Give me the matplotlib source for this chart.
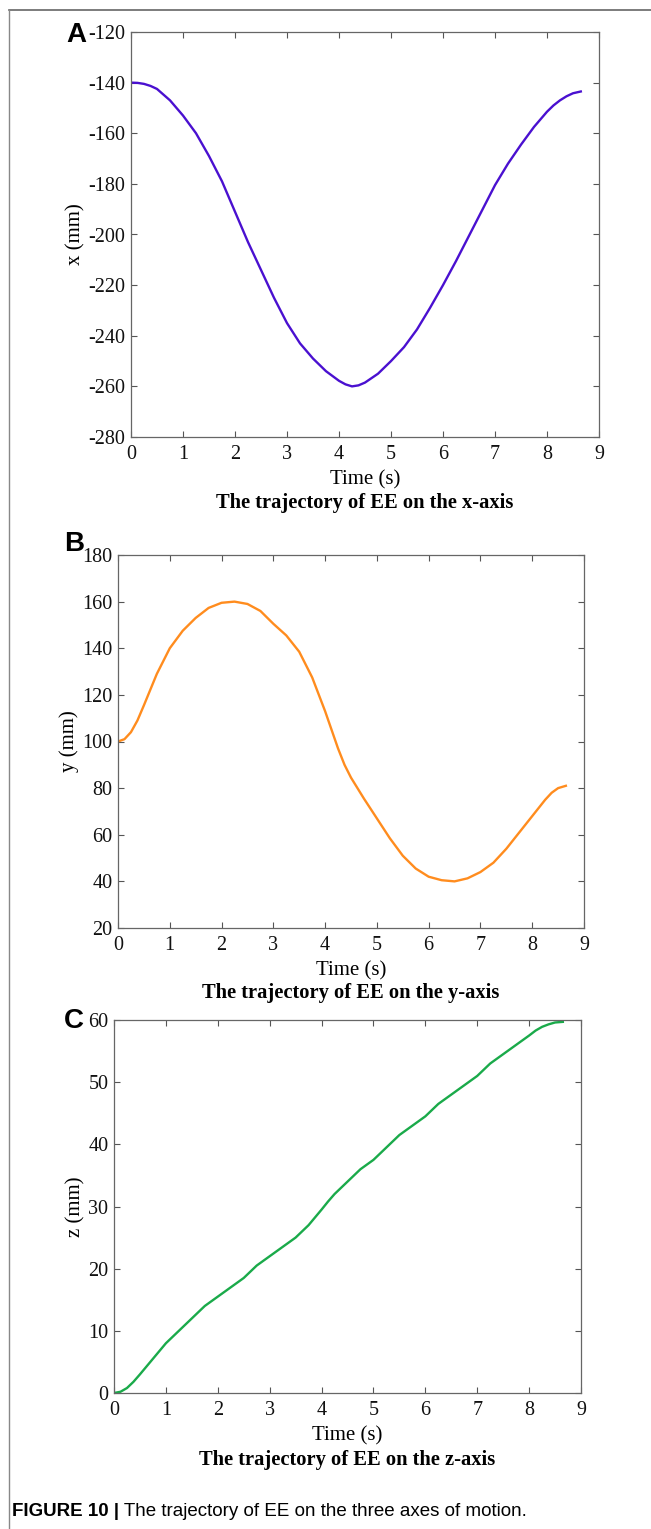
import matplotlib
matplotlib.use("Agg")
import matplotlib.pyplot as plt
from matplotlib.lines import Line2D

plt.rcParams["axes.unicode_minus"] = False

# ---- data ----
time_s = [0, 0.125, 0.25, 0.375, 0.5, 0.75, 1, 1.25, 1.5, 1.75, 2, 2.25, 2.5, 2.75, 3,
          3.25, 3.5, 3.75, 4, 4.125, 4.25, 4.375, 4.5, 4.75, 5, 5.25, 5.5, 5.75, 6,
          6.25, 6.5, 6.75, 7, 7.25, 7.5, 7.75, 8, 8.125, 8.25, 8.375, 8.5, 8.65]
x_mm = [-140, -140.1, -140.5, -141.3, -142.5, -147, -153, -160, -169, -179, -191,
        -203, -214, -225, -235, -243, -249, -254, -257.8, -259.2, -260, -259.6,
        -258.5, -255, -250, -244.5, -237.5, -229, -220, -210.5, -200.5, -190.5,
        -180.5, -172, -164.5, -157.5, -151.5, -149, -147, -145.4, -144.2, -143.5]
y_mm = [100, 101, 104, 109, 115.5, 129, 140, 147.5, 153, 157.3, 159.5, 160, 159,
        156, 150.5, 145.5, 138.5, 127.5, 113, 105, 97, 90, 84.5, 75.5, 67, 58.5, 51,
        45.5, 42, 40.5, 40, 41.3, 44, 48, 54, 61, 68, 71.5, 75, 78, 80, 81]
z_mm = [0, 0.2, 0.8, 1.8, 3, 5.5, 8, 10, 12, 14, 15.5, 17, 18.5, 20.5, 22, 23.5, 25,
        27, 29.5, 30.8, 32, 33, 34, 36, 37.5, 39.5, 41.5, 43, 44.5, 46.5, 48, 49.5,
        51, 53, 54.5, 56, 57.5, 58.3, 58.9, 59.3, 59.6, 59.7]

x_ticks = list(range(0, 10))
yticks_a = list(range(-280, -119, 20))
yticks_b = list(range(20, 181, 20))
yticks_c = list(range(0, 61, 10))

panel_letters = ["A", "B", "C"]
ylabels = ["x (mm)", "y (mm)", "z (mm)"]
titles = ["The trajectory of EE on the x-axis",
          "The trajectory of EE on the y-axis",
          "The trajectory of EE on the z-axis"]
colors = ["#4a10d0", "#ff8c1e", "#1aaa4a"]
caption_bold = "FIGURE 10 |"
caption_text = " The trajectory of EE on the three axes of motion."

W, H = 651, 1529
fig = plt.figure(figsize=(W / 100, H / 100), dpi=100)
serif = ["Liberation Serif", "DejaVu Serif"]
sans = ["Liberation Sans", "DejaVu Sans"]

def px_box(l, r, t, b):
    return [l / W, 1 - b / H, (r - l) / W, (b - t) / H]

boxes = [px_box(131, 599, 32, 437), px_box(118, 584, 555, 928), px_box(114, 581, 1020, 1393)]
series = [x_mm, y_mm, z_mm]
yticks = [yticks_a, yticks_b, yticks_c]
title_y = [503, 993, 1460]
letter_pos = [(66, 35), (64, 544), (64, 1021)]

for i in range(3):
    ax = fig.add_axes(boxes[i])
    ax.plot(time_s, series[i], color=colors[i], lw=1.7)
    ax.set_xlim(0, 9)
    ax.set_ylim(yticks[i][0], yticks[i][-1])
    ax.set_xticks(x_ticks)
    ax.set_yticks(yticks[i])
    ax.tick_params(direction="in", top=True, right=True, length=4, width=0.8,
                   color="#555555", labelsize=14.5)
    ax.tick_params(axis="x", pad=6)
    ax.tick_params(axis="y", pad=4)
    for lab in ax.get_xticklabels() + ax.get_yticklabels():
        lab.set_family(serif)
        lab.set_color("#111111")
    for sp in ax.spines.values():
        sp.set_color("#666666")
        sp.set_linewidth(0.9)
    ax.set_xlabel("Time (s)", family=serif, fontsize=15, labelpad=4)
    ax.set_ylabel(ylabels[i], family=serif, fontsize=15, labelpad=2)
    cx = (boxes[i][0] + boxes[i][2] / 2)
    fig.text(cx, 1 - title_y[i] / H, titles[i], family=serif, fontsize=14.8,
             fontweight="bold", ha="center", va="center")
    lx, ly = letter_pos[i]
    fig.text(lx / W, 1 - ly / H, panel_letters[i], family=sans, fontsize=20,
             fontweight="bold", ha="left", va="center")

# outer frame (top and left lines)
fig.add_artist(Line2D([9 / W, 1], [1 - 10 / H, 1 - 10 / H], color="#666666", lw=1.2,
                      transform=fig.transFigure))
fig.add_artist(Line2D([9 / W, 9 / W], [0, 1 - 10 / H], color="#888888", lw=1.0,
                      transform=fig.transFigure))

t1 = fig.text(12 / W, 1 - 1512 / H, caption_bold, family=sans, fontsize=13.5,
              fontweight="bold", ha="left", va="center")
fig.canvas.draw()
bb = t1.get_window_extent()
fig.text(bb.x1 / W, 1 - 1512 / H, caption_text, family=sans, fontsize=13.5,
         ha="left", va="center")

fig.savefig("out.png", dpi=100)
